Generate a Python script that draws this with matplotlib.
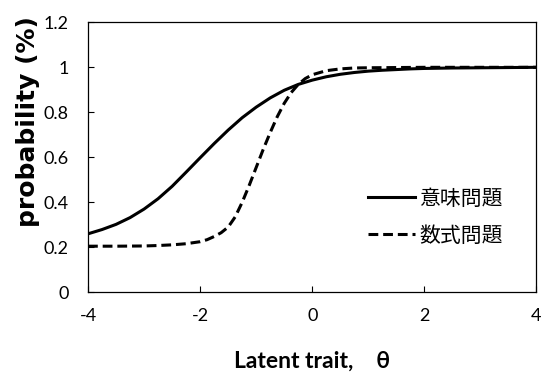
import matplotlib
matplotlib.use("Agg")
import matplotlib.pyplot as plt

plt.rcParams['font.family'] = ['Lato', 'Noto Sans CJK JP', 'DejaVu Sans']

# 意味問題 (solid)
theta_meaning = [-4.0, -3.75, -3.5, -3.25, -3.0, -2.75, -2.5, -2.25, -2.0, -1.75,
                 -1.5, -1.25, -1.0, -0.75, -0.5, -0.25, 0.0, 0.25, 0.5, 0.75,
                 1.0, 1.25, 1.5, 1.75, 2.0, 2.5, 3.0, 3.5, 4.0]
p_meaning = [0.260, 0.279, 0.302, 0.332, 0.370, 0.416, 0.471, 0.534, 0.598, 0.661,
             0.721, 0.776, 0.823, 0.864, 0.898, 0.924, 0.943, 0.958, 0.969, 0.977,
             0.983, 0.987, 0.990, 0.993, 0.995, 0.997, 0.998, 0.999, 1.0]

# 数式問題 (dashed)
theta_formula = [-4.0, -3.5, -3.0, -2.75, -2.5, -2.25, -2.0, -1.875, -1.75, -1.625,
                 -1.5, -1.375, -1.25, -1.125, -1.0, -0.875, -0.75, -0.625, -0.5,
                 -0.375, -0.25, -0.125, 0.0, 0.25, 0.5, 0.75, 1.0, 1.5, 2.0, 3.0, 4.0]
p_formula = [0.205, 0.205, 0.206, 0.208, 0.211, 0.216, 0.225, 0.234, 0.248, 0.265,
             0.29, 0.335, 0.40, 0.475, 0.555, 0.635, 0.71, 0.78, 0.84,
             0.888, 0.924, 0.950, 0.967, 0.985, 0.993, 0.997, 0.998, 0.999, 1.0, 1.0, 1.0]

labels = ['意味問題', '数式問題']
xticks = [-4, -2, 0, 2, 4]
yticks = [0, 0.2, 0.4, 0.6, 0.8, 1.0, 1.2]
ytick_labels = ['0', '0.2', '0.4', '0.6', '0.8', '1', '1.2']

fig = plt.figure(figsize=(5.42, 3.72), dpi=100)
ax = fig.add_axes([0.1624, 0.2142, 0.8274, 0.7258])

ax.plot(theta_meaning, p_meaning, color='black', lw=2.2, label=labels[0])
ax.plot(theta_formula, p_formula, color='black', lw=2.2,
        linestyle=(0, (3.2, 1.6)), label=labels[1])

ax.set_xlim(-4, 4)
ax.set_ylim(0, 1.2)
ax.set_xticks(xticks)
ax.set_xticklabels([str(t) for t in xticks])
ax.set_yticks(yticks)
ax.set_yticklabels(ytick_labels)
ax.tick_params(direction='in', length=4, width=0.8, labelsize=13, colors='black')
ax.tick_params(axis='x', pad=11)
ax.tick_params(axis='y', pad=14)
for s in ax.spines.values():
    s.set_linewidth(0.9)
    s.set_color('black')

fig.text(312 / 542, 1 - 368 / 372, 'Latent trait,\u3000θ', fontsize=16.5,
         fontweight='bold', ha='center', va='baseline')
fig.text(28 / 542, 1 - 122 / 372, 'probability (%)', fontsize=18,
         fontweight='bold', ha='center', va='center', rotation=90,
         family=['DejaVu Sans'])

leg = ax.legend(loc='center left', bbox_to_anchor=(0.624, 0.279), frameon=False,
                handlelength=2.26, handletextpad=0.2,
                borderaxespad=0, borderpad=0, labelspacing=0.72,
                prop={'family': ['Noto Sans CJK JP', 'DejaVu Sans'], 'size': 15})

fig.savefig('out.png', dpi=100)
